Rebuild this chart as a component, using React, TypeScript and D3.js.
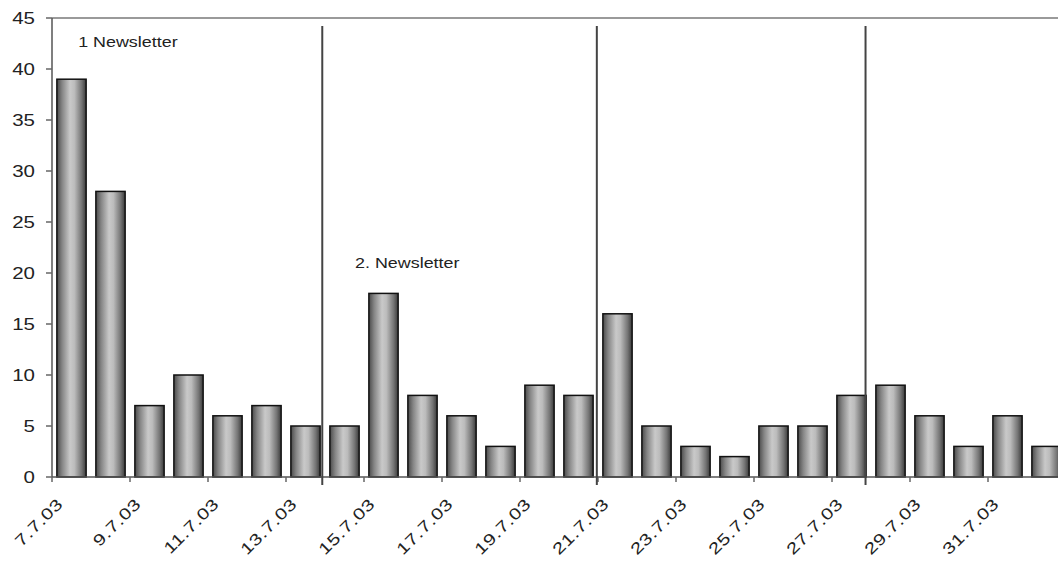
import React from "react";
import * as d3 from "d3";

// Daily counts, July 2003
const dates = [
  "7.7.03", "8.7.03", "9.7.03", "10.7.03", "11.7.03", "12.7.03", "13.7.03",
  "14.7.03", "15.7.03", "16.7.03", "17.7.03", "18.7.03", "19.7.03", "20.7.03",
  "21.7.03", "22.7.03", "23.7.03", "24.7.03", "25.7.03", "26.7.03", "27.7.03",
  "28.7.03", "29.7.03", "30.7.03", "31.7.03", "1.8.03",
];
const counts = [39, 28, 7, 10, 6, 7, 5, 5, 18, 8, 6, 3, 9, 8, 16, 5, 3, 2, 5, 5, 8, 9, 6, 3, 6, 3];
const yTicks = [0, 5, 10, 15, 20, 25, 30, 35, 40, 45];

// Separator lines, in day units from the first day
const separators = [6.93, 13.97, 20.86];

// Text annotations: [label, day position, value]
const notes: [string, number, number][] = [
  ["1 Newsletter", 0.67, 42.2],
  ["2. Newsletter", 7.77, 20.5],
];

const W = 1058;
const H = 563;
const left = 52;
const top = 18;
const bottom = 477;
const step = 39;
const right = left + step * dates.length;
const SX = 1.28;

export default function App() {
  const x = d3
    .scaleBand<string>()
    .domain(dates)
    .range([left, right])
    .paddingInner(0.25)
    .paddingOuter(0.125);
  const y = d3.scaleLinear().domain([0, 45]).range([bottom, top]);
  const dayX = d3.scaleLinear().domain([0, dates.length]).range([left, right]);

  const font = "Arial, 'Liberation Sans', sans-serif";

  return (
    <svg
      width={W}
      height={H}
      style={{ position: "absolute", left: 0, top: 0, background: "#fff", display: "block" }}
    >
      <defs>
        <linearGradient id="barFill" x1="0" x2="1" y1="0" y2="0">
          <stop offset="0%" stopColor="#4a4a4a" />
          <stop offset="18%" stopColor="#858585" />
          <stop offset="45%" stopColor="#c9c9c9" />
          <stop offset="60%" stopColor="#bcbcbc" />
          <stop offset="85%" stopColor="#747474" />
          <stop offset="100%" stopColor="#3a3a3a" />
        </linearGradient>
      </defs>

      {/* plot frame top */}
      <line x1={left} x2={W} y1={y(45)} y2={y(45)} stroke="#9a9a9a" strokeWidth={2} />

      {/* bars */}
      {counts.map((v, i) => (
        <rect
          key={dates[i]}
          x={x(dates[i])}
          y={y(v)}
          width={x.bandwidth()}
          height={y(0) - y(v)}
          fill="url(#barFill)"
          stroke="#111"
          strokeWidth={1.5}
        />
      ))}

      {/* y axis */}
      <line x1={left} x2={left} y1={y(45)} y2={y(0)} stroke="#555" strokeWidth={1.5} />
      {yTicks.map((t) => (
        <g key={t}>
          <line x1={left - 6} x2={left} y1={y(t)} y2={y(t)} stroke="#666" strokeWidth={1.5} />
          <text
            transform={`translate(${left - 17},${y(t)}) scale(${SX},1)`}
            textAnchor="end"
            dy="0.36em"
            fontFamily={font}
            fontSize={16}
            fill="#222"
          >
            {t}
          </text>
        </g>
      ))}

      {/* x axis */}
      <line x1={left} x2={W} y1={y(0)} y2={y(0)} stroke="#555" strokeWidth={1.5} />
      {dates.map((d, i) =>
        i % 2 === 0 ? (
          <g key={d}>
            <line
              x1={dayX(i)}
              x2={dayX(i)}
              y1={y(0)}
              y2={y(0) + 5}
              stroke="#666"
              strokeWidth={1.5}
            />
            <text
              transform={`translate(${(x(d) ?? 0) + 7},505) rotate(-45) scale(${SX},1)`}
              textAnchor="end"
              fontFamily={font}
              fontSize={16}
              letterSpacing={0.4}
              fill="#222"
            >
              {d}
            </text>
          </g>
        ) : null
      )}

      {/* newsletter separators */}
      {separators.map((s) => (
        <line
          key={s}
          x1={dayX(s)}
          x2={dayX(s)}
          y1={26}
          y2={y(0) + 8}
          stroke="#444"
          strokeWidth={2}
        />
      ))}

      {notes.map(([label, p, v]) => (
        <text
          key={label}
          transform={`translate(${dayX(p)},${y(v)}) scale(${SX},1)`}
          fontFamily={font}
          fontSize={14}
          fill="#222"
        >
          {label}
        </text>
      ))}
    </svg>
  );
}
